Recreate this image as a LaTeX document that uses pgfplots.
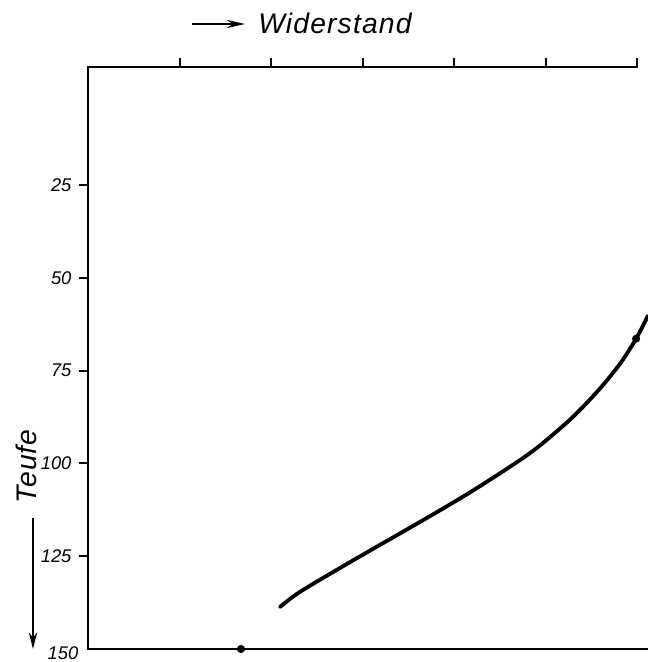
\documentclass[border=0pt]{standalone}
\usepackage{fontspec}
\setsansfont{Liberation Sans}
\newfontfamily\wfont[LetterSpace=4]{Liberation Sans}
\usepackage{pgfplots}
\pgfplotsset{compat=1.18}
\usetikzlibrary{arrows.meta}
\begin{document}
\begin{tikzpicture}[x=0.6pt,y=0.6pt]
% bounding box in px relative to axis lower-left (pixel 88,649)
\path[use as bounding box] (-88,-13) rectangle (560,649);
\begin{axis}[
  at={(0,0)}, anchor=south west,
  scale only axis, width=336pt, height=349.2pt,
  xmin=0, xmax=6.12, ymin=-6.8, ymax=150,
  y dir=reverse,
  axis line style={draw=none},
  xtick={1,2,3,4,5,6}, xticklabels={}, xtick pos=right,
  ytick={25,50,75,100,125}, ytick pos=left,
  tick align=outside, major tick length=5.4pt,
  major tick style={line width=1.2pt, black},
  yticklabel style={font=\sffamily\itshape\fontsize{11}{13}\selectfont, xshift=-1pt},
  /pgf/number format/assume math mode=true,
  clip=false,
]
\draw[line width=1.3pt, line cap=rect] (axis cs:0,150) -- (axis cs:0,-6.8) -- (axis cs:6,-6.8);
\draw[line width=1.3pt] (axis cs:0,150) -- (axis cs:6.12,150);
\addplot[black, line width=2.3pt, smooth, tension=0.5, line cap=round] coordinates {
 (2.098,138.7) (2.317,134.6) (2.863,126.6) (3.4,119.0) (3.8,113.3) (4.175,107.8)
 (4.612,100.9) (4.907,95.8) (5.268,88.2) (5.5,82.4) (5.672,77.6) (5.836,72.4) (5.99,66.4) (6.12,60.2)
};
\addplot[only marks, mark=*, mark size=2.2pt, black] coordinates {
 (5.99,66.4) (1.672,150)
};
\end{axis}
% annotations (px relative to axis lower-left)
\draw[line width=1pt, -{Stealth[length=11pt,width=5pt]}] (104,625) -- (157,625);
\node[anchor=west, font=\wfont\itshape\fontsize{17}{20}\selectfont, inner sep=0pt] at (170,626) {Widerstand};
\node[rotate=90, font=\wfont\itshape\fontsize{17}{20}\selectfont, inner sep=0pt] at (-61.5,182.5) {Teufe};
\draw[line width=1pt, -{Stealth[length=10pt,width=5pt]}] (-55,131) -- (-55,0);
\node[font=\sffamily\itshape\fontsize{11}{13}\selectfont, inner sep=0pt] at (-25,-4) {150};
\end{tikzpicture}
\end{document}
